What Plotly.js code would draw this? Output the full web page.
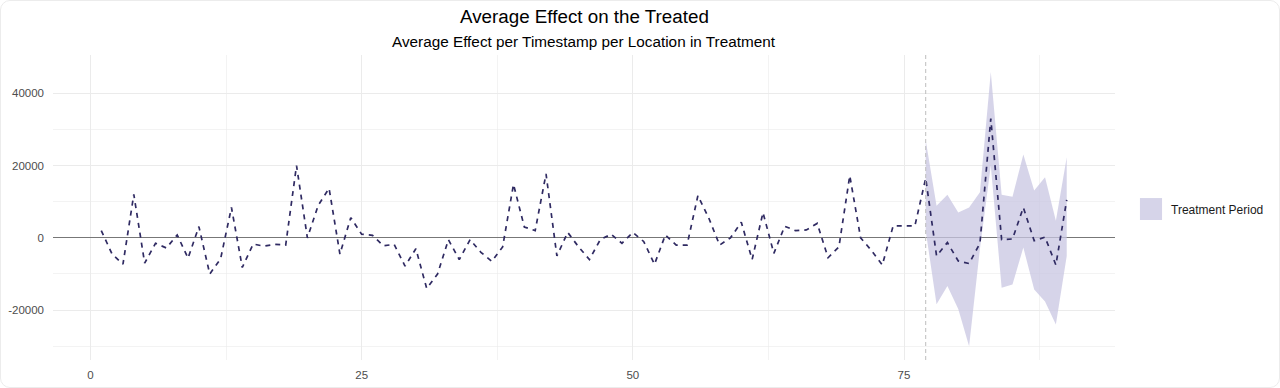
<!DOCTYPE html>
<html>
<head>
<meta charset="utf-8">
<script src="https://cdn.plot.ly/plotly-3.0.1.min.js"></script>
<style>
  html, body { margin: 0; padding: 0; background: #ffffff; }
  #wrap { position: relative; width: 1280px; height: 388px; }
  #wrap::after { content: ''; position: absolute; left: 0; top: 0; right: 0; bottom: 0; box-sizing: border-box;
    border: 1px solid #ececec; border-radius: 10px; pointer-events: none; }
  #chart { width: 1280px; height: 388px; }
</style>
</head>
<body>
<div id="wrap"><div id="chart"></div></div>
<script>
// ---- data ----
const timestamps = Array.from({length: 90}, (_, i) => i + 1);
const effect = [
  2000, -4500, -7300, 12000, -7000, -1500, -2800, 800, -5600, 3100,
  -10000, -5800, 8400, -8200, -1700, -2300, -1800, -2000, 20000, 0,
  9000, 13700, -4500, 5600, 1000, 700, -2200, -1800, -7800, -3000,
  -14000, -10000, -500, -6000, -500, -4000, -6500, -2500, 14800, 3000,
  2000, 17700, -5000, 1500, -2500, -6000, -500, 1000, -1500, 1500,
  -1000, -7300, 800, -2000, -2000, 11700, 5500, -2000, 0, 4300,
  -6000, 7000, -4300, 3200, 2000, 2200, 4000, -5500, -2500, 17200,
  0, -3500, -7500, 3300, 3300, 3300, 16500, -5000, -1300, -6400,
  -7100, -1500, 33000, -500, -300, 8400, -800, 200, -7500, 10500
];
const treatmentStart = 77;
const bandX     = [77, 78, 79, 80, 81, 82, 83, 84, 85, 86, 87, 88, 89, 90];
const bandUpper = [27000, 8900, 11900, 7000, 8400, 12600, 45900, 11900, 11400, 23100, 13100, 16800, 4700, 22300];
const bandLower = [2000, -18400, -13300, -19700, -30000, -3000, 20000, -13800, -12900, -2700, -14300, -17600, -24000, -5000];
const xTicks = [0, 25, 50, 75];
const yTicks = [-20000, 0, 20000, 40000];
const legendLabel = "Treatment Period";
const mainTitle = "Average Effect on the Treated";
const subTitle = "Average Effect per Timestamp per Location in Treatment";

// ---- styles ----
const lineColor = '#2f2a62';
const bandColor = 'rgba(200,197,225,0.75)';
const gridColor = '#ebebeb';
const textColor = '#4d4d4d';
const font = 'Liberation Sans, Arial, sans-serif';

const traces = [
  { x: bandX, y: bandLower, type: 'scatter', mode: 'lines', line: {width: 0}, hoverinfo: 'skip', showlegend: false },
  { x: bandX, y: bandUpper, type: 'scatter', mode: 'lines', line: {width: 0}, fill: 'tonexty', fillcolor: bandColor, hoverinfo: 'skip', showlegend: false, name: legendLabel },
  { x: timestamps, y: effect, type: 'scatter', mode: 'lines', line: {color: lineColor, width: 1.7, dash: '5px,5px'}, showlegend: false }
];

const layout = {
  width: 1280, height: 388,
  margin: {l: 53, r: 165, t: 55, b: 28},
  paper_bgcolor: 'rgba(0,0,0,0)', plot_bgcolor: '#ffffff',
  font: {family: font, color: textColor, size: 11},
  xaxis: {
    range: [-3.45, 94.45], tickvals: xTicks, ticktext: xTicks.map(String),
    showgrid: true, gridcolor: gridColor, gridwidth: 1, zeroline: false, showline: false, ticks: '',
    ticklabelstandoff: 6,
    minor: {tickvals: [12.5, 37.5, 62.5, 87.5], showgrid: true, gridcolor: gridColor, gridwidth: 0.6},
    tickfont: {size: 11.5, color: textColor}, fixedrange: true
  },
  yaxis: {
    range: [-33800, 50600], tickvals: yTicks, ticktext: yTicks.map(String),
    showgrid: true, gridcolor: gridColor, gridwidth: 1, zeroline: true, zerolinecolor: '#777777', zerolinewidth: 1,
    showline: false, ticks: '', ticklabelstandoff: 8,
    minor: {tickvals: [-30000, -10000, 10000, 30000], showgrid: true, gridcolor: gridColor, gridwidth: 0.6},
    tickfont: {size: 11.5, color: textColor}, fixedrange: true
  },
  shapes: [
    { type: 'line', xref: 'x', yref: 'paper', x0: treatmentStart, x1: treatmentStart, y0: 0, y1: 1,
      line: {color: '#bdbdbd', width: 1, dash: '4px,3px'} },
    { type: 'rect', xref: 'paper', yref: 'paper', x0: 1.0235, x1: 1.0443, y0: 0.459, y1: 0.531,
      fillcolor: bandColor, line: {width: 0} }
  ],
  annotations: [
    { text: mainTitle, xref: 'paper', yref: 'paper', x: 0.5, y: 1.1246, xanchor: 'center', yanchor: 'middle',
      showarrow: false, font: {family: font, size: 18.8, color: '#000000'} },
    { text: subTitle, xref: 'paper', yref: 'paper', x: 0.5, y: 1.0459, xanchor: 'center', yanchor: 'middle',
      showarrow: false, font: {family: font, size: 15.3, color: '#000000'} },
    { text: legendLabel, xref: 'paper', yref: 'paper', x: 1.0505, y: 0.492, xanchor: 'left', yanchor: 'middle',
      showarrow: false, font: {family: font, size: 12, color: '#1a1a1a'} }
  ],
  showlegend: false
};

Plotly.newPlot('chart', traces, layout, {displayModeBar: false, staticPlot: true});
</script>
</body>
</html>
